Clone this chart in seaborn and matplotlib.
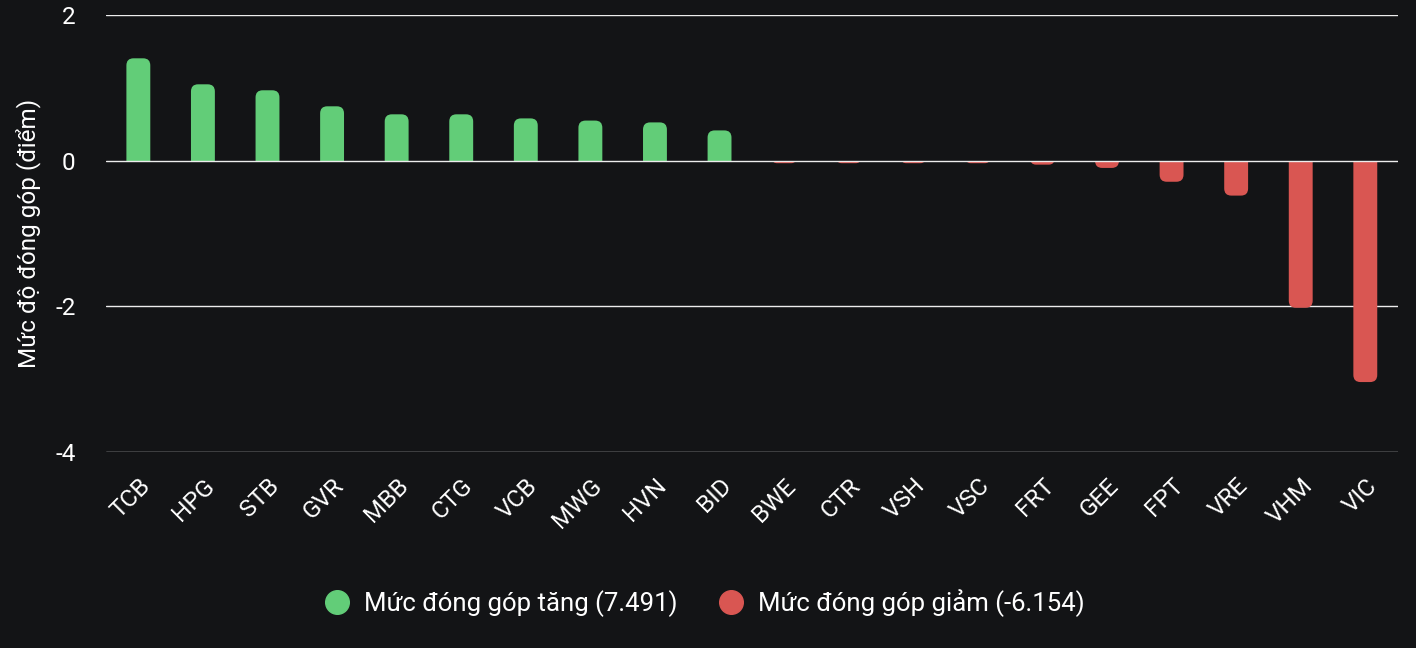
import numpy as np
import pandas as pd
import seaborn as sns
from matplotlib import pyplot as plt
from matplotlib.patches import FancyBboxPatch, Rectangle
from matplotlib.lines import Line2D

tickers = ["TCB", "HPG", "STB", "GVR", "MBB", "CTG", "VCB", "MWG", "HVN", "BID",
           "BWE", "CTR", "VSH", "VSC", "FRT", "GEE", "FPT", "VRE", "VHM", "VIC"]
contrib = [1.405, 1.048, 0.966, 0.746, 0.636, 0.636, 0.58, 0.55, 0.525, 0.415,
           -0.035, -0.035, -0.035, -0.035, -0.055, -0.10, -0.29, -0.48, -2.02, -3.04]
legend_labels = ["Mức đóng góp tăng (7.491)", "Mức đóng góp giảm (-6.154)"]
y_ticks = [-4, -2, 0, 2]
y_label = "Mức độ đóng góp (điểm)"

BG = "#131416"
GREEN = "#62cd78"
RED = "#d95652"
GRID = "#ededed"

sns.set_style("dark")
plt.rcParams["font.family"] = ["Roboto", "DejaVu Sans"]

df = pd.DataFrame({"ticker": tickers, "value": contrib})
df["kind"] = np.where(df["value"] >= 0, "up", "down")

fig = plt.figure(figsize=(14.16, 6.48), dpi=100, facecolor=BG)
ax = fig.add_axes([0.0749, 0.3025, 0.9121, 0.6744])
ax.set_facecolor(BG)

sns.barplot(data=df, x="ticker", y="value", hue="kind",
            palette={"up": GREEN, "down": RED}, dodge=False,
            width=0.37, legend=False, ax=ax, saturation=1)

ax.set_ylim(-4, 2)
ax.set_xlim(-0.5, len(tickers) - 0.5)

# swap plain bars for bars rounded at the outer end
rx = 0.11
asp = 0.89
for p in list(ax.patches):
    x, w = p.get_x(), p.get_width()
    h = p.get_height()
    col = p.get_facecolor()
    p.remove()
    ry = rx * asp
    if h >= 0:
        y0, hh = -ry, h + ry
    else:
        y0, hh = h, -h + ry
    r = min(rx, w / 2, hh / asp / 2)
    box = FancyBboxPatch((x, y0), w, hh,
                         boxstyle=f"round,pad=0,rounding_size={r}",
                         mutation_aspect=asp, facecolor=col, edgecolor="none",
                         zorder=3)
    ax.add_patch(box)
    if h >= 0:
        clip = Rectangle((x - 1, 0), w + 2, 10, transform=ax.transData)
    else:
        clip = Rectangle((x - 1, -10), w + 2, 10, transform=ax.transData)
    box.set_clip_path(clip)

for yv in y_ticks:
    ax.axhline(yv, color=GRID, lw=1.0, zorder=1 if yv != 0 else 4)

ax.set_yticks(y_ticks)
ax.set_yticklabels([str(v) for v in y_ticks])
ax.tick_params(axis="y", colors="white", labelsize=17.5, length=0, pad=22)
ax.tick_params(axis="x", colors="white", labelsize=17.5, length=0, pad=16)
plt.setp(ax.get_xticklabels(), rotation=45, ha="right", rotation_mode="anchor")
for s in ax.spines.values():
    s.set_visible(False)
ax.grid(False)
ax.set_xlabel("")
ax.set_ylabel(y_label, color="white", fontsize=17.5, labelpad=10)

handles = [Line2D([], [], marker="o", ls="", markersize=17, color=GREEN),
           Line2D([], [], marker="o", ls="", markersize=17, color=RED)]
leg = fig.legend(handles, legend_labels, loc="center",
                 bbox_to_anchor=(0.493, 1 - 603 / 648), ncol=2, frameon=False,
                 fontsize=18.5, handletextpad=0.05, columnspacing=1.1)
for t in leg.get_texts():
    t.set_color("white")

plt.savefig("out.png", dpi=100, facecolor=BG)
plt.close()
